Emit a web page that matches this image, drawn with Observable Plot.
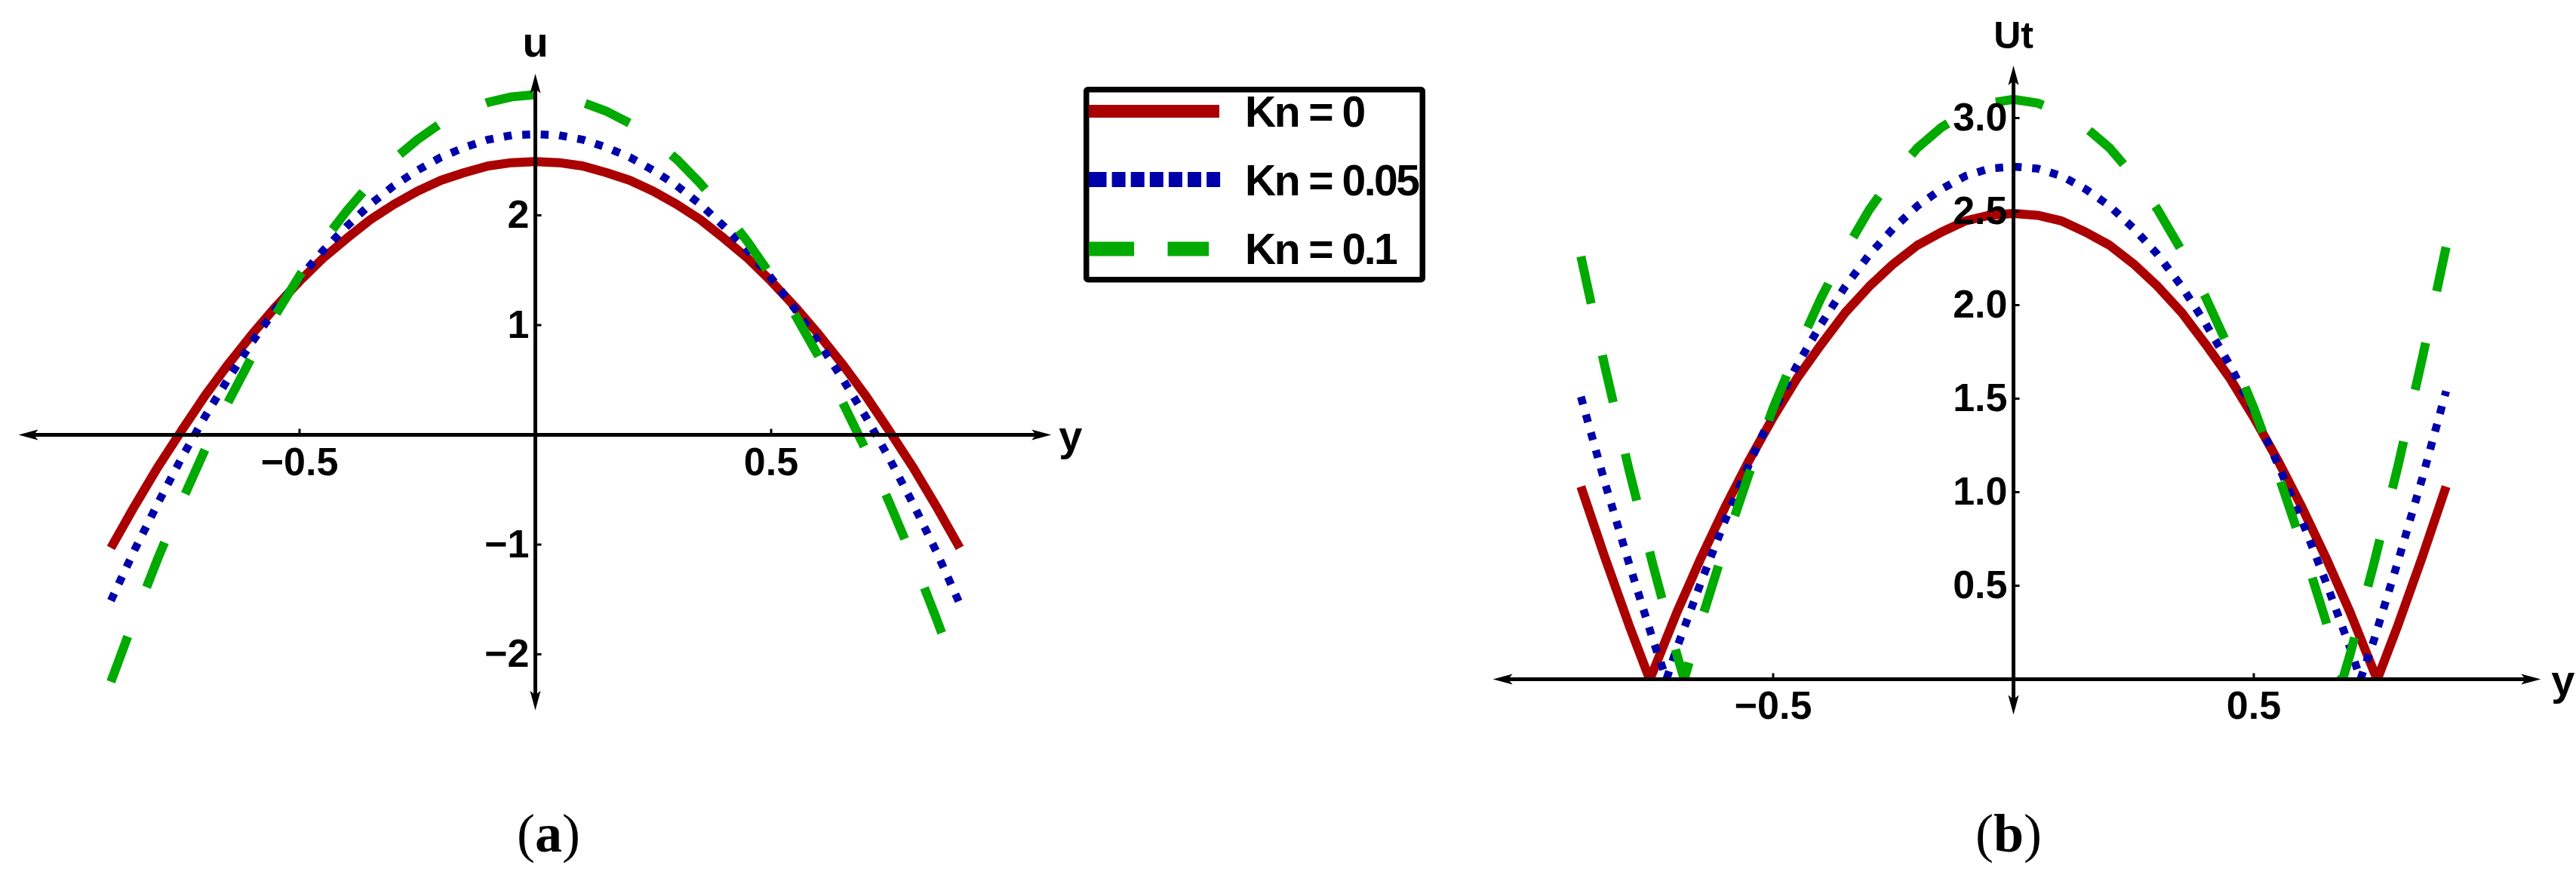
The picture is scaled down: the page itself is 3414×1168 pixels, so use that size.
<!DOCTYPE html>
<html>
<head>
<meta charset="utf-8">
<script src="https://cdn.jsdelivr.net/npm/d3@7"></script>
<script src="https://cdn.jsdelivr.net/npm/@observablehq/plot@0.6"></script>
<style>
html, body { margin: 0; padding: 0; background: #fff; }
#root { position: relative; width: 3414px; height: 1168px; overflow: hidden; background: #fff; }
.panel { position: absolute; top: 0; }
</style>
</head>
<body>
<div id="root"></div>
<script>
// ---------------- data ----------------
const seriesNames = ["Kn = 0", "Kn = 0.05", "Kn = 0.1"];

const yGrid = [-0.90,-0.85,-0.80,-0.75,-0.70,-0.65,-0.60,-0.55,-0.50,-0.45,-0.40,-0.35,-0.30,-0.25,-0.20,-0.15,-0.10,-0.05,0,
               0.05,0.10,0.15,0.20,0.25,0.30,0.35,0.40,0.45,0.50,0.55,0.60,0.65,0.70,0.75,0.80,0.85,0.90];

// panel (a): u(y)
const uRed   = [-1.03,-0.65,-0.29,0.04,0.36,0.65,0.92,1.17,1.40,1.61,1.79,1.96,2.10,2.22,2.32,2.39,2.45,2.48,2.49,
                2.48,2.45,2.39,2.32,2.22,2.10,1.96,1.79,1.61,1.40,1.17,0.92,0.65,0.36,0.04,-0.29,-0.65,-1.03];
const uBlue  = [-1.51,-1.05,-0.62,-0.21,0.17,0.52,0.85,1.15,1.43,1.68,1.90,2.10,2.27,2.41,2.53,2.62,2.69,2.73,2.74,
                2.73,2.69,2.62,2.53,2.41,2.27,2.10,1.90,1.68,1.43,1.15,0.85,0.52,0.17,-0.21,-0.62,-1.06,-1.54];
const uGreen = [-2.25,-1.67,-1.12,-0.61,-0.13,0.31,0.72,1.10,1.45,1.76,2.04,2.29,2.51,2.69,2.84,2.95,3.03,3.08,3.10,
                3.08,3.03,2.95,2.84,2.69,2.51,2.29,2.04,1.76,1.45,1.10,0.72,0.31,-0.13,-0.61,-1.12,-1.67,-2.25];

// panel (b): Ut(y)
const utRed   = [1.03,0.65,0.29,0.04,0.36,0.65,0.92,1.17,1.40,1.61,1.79,1.96,2.10,2.22,2.32,2.39,2.45,2.48,2.49,
                 2.48,2.45,2.39,2.32,2.22,2.10,1.96,1.79,1.61,1.40,1.17,0.92,0.65,0.36,0.04,0.29,0.65,1.03];
const utBlue  = [1.51,1.05,0.62,0.21,0.17,0.52,0.85,1.15,1.43,1.68,1.90,2.10,2.27,2.41,2.53,2.62,2.69,2.73,2.74,
                 2.73,2.69,2.62,2.53,2.41,2.27,2.10,1.90,1.68,1.43,1.15,0.85,0.52,0.17,0.21,0.63,1.07,1.54];
const utGreen = [2.26,1.67,1.12,0.61,0.13,0.31,0.72,1.10,1.45,1.76,2.04,2.29,2.51,2.69,2.84,2.95,3.03,3.08,3.10,
                 3.08,3.03,2.95,2.84,2.69,2.51,2.29,2.04,1.76,1.45,1.10,0.72,0.31,0.13,0.62,1.14,1.71,2.31];
// points where Ut touches zero (corners of the V)
const zeroRed   = [-0.757, 0.757];
const zeroBlue  = [-0.722, 0.722];
const zeroGreen = [-0.685, 0.685];

// axes
const xTicksA = [-0.5, 0.5];
const xTickLabelsA = ["\u22120.5", "0.5"];
const yTicksA = [-2, -1, 1, 2];
const yTickLabelsA = ["\u22122", "\u22121", "1", "2"];
const xAxisA = [-1.096, 1.094];
const yAxisA = [-2.51, 3.29];

const xTicksB = [-0.5, 0.5];
const xTickLabelsB = ["\u22120.5", "0.5"];
const yTicksB = [0.5, 1.0, 1.5, 2.0, 2.5, 3.0];
const yTickLabelsB = ["0.5", "1.0", "1.5", "2.0", "2.5", "3.0"];
const xAxisB = [-1.083, 1.097];
const yAxisB = [-0.19, 3.28];

// ---------------- styles ----------------
const lineStyles = [
  {stroke: "#aa0000", strokeWidth: 12, strokeDasharray: null},
  {stroke: "#0000aa", strokeWidth: 10.5, strokeDasharray: "10.5,14"},
  {stroke: "#00aa00", strokeWidth: 12, strokeDasharray: "64,70"}
];
const SANS = "'Liberation Sans', Arial, Helvetica, sans-serif";

// custom symbols (tip of the arrowhead at the anchor point)
function mkArrow(dir) {
  return {
    draw(ctx, size) {
      const L = Math.sqrt(size / Math.PI), w = L * 0.27, n = L * 0.78;
      const pts = [[0, 0], [-L, -w], [-n, 0], [-L, w]];
      const rot = ([x, y]) =>
        dir === "right" ? [x, y] :
        dir === "left"  ? [-x, y] :
        dir === "up"    ? [y, -x] :
                          [y, x];
      pts.map(rot).forEach(([x, y], i) => i ? ctx.lineTo(x, y) : ctx.moveTo(x, y));
      ctx.closePath();
    }
  };
}
const tickUp = {draw(ctx, size) { const r = Math.sqrt(size / Math.PI); ctx.moveTo(0, 0); ctx.lineTo(0, -r); }};
const tickRight = {draw(ctx, size) { const r = Math.sqrt(size / Math.PI); ctx.moveTo(0, 0); ctx.lineTo(r, 0); }};

function buildRowsA() {
  const arrs = [uRed, uBlue, uGreen];
  return seriesNames.map((s, k) => yGrid.map((y, i) => ({s, y, v: arrs[k][i]})));
}
function buildRowsB() {
  const arrs = [utRed, utBlue, utGreen];
  const zeros = [zeroRed, zeroBlue, zeroGreen];
  return seriesNames.map((s, k) =>
    yGrid.map((y, i) => ({s, y, v: arrs[k][i]}))
      .concat(zeros[k].map(y => ({s, y, v: 0})))
      .sort((a, b) => a.y - b.y));
}

function makePanel(o) {
  const marks = [];
  o.rows.forEach((rows, k) => {
    const st = lineStyles[k];
    marks.push(Plot.line(rows, {
      x: "y", y: "v", stroke: st.stroke, strokeWidth: st.strokeWidth,
      strokeDasharray: st.strokeDasharray, strokeLinecap: "butt", strokeLinejoin: "miter", curve: "linear"
    }));
  });
  // axes lines
  marks.push(Plot.ruleY([0], {x1: () => o.xAxis[0], x2: () => o.xAxis[1], stroke: "black", strokeWidth: 5, insetLeft: 12, insetRight: 12}));
  marks.push(Plot.ruleX([0], {y1: () => o.yAxis[1], y2: () => o.yAxis[0], stroke: "black", strokeWidth: 5, insetTop: 12, insetBottom: 12}));
  // arrowheads
  marks.push(Plot.dot([o.xAxis[0]], {x: d => d, y: () => 0, symbol: mkArrow("left"), r: 26, fill: "black", stroke: "none"}));
  marks.push(Plot.dot([o.xAxis[1]], {x: d => d, y: () => 0, symbol: mkArrow("right"), r: 26, fill: "black", stroke: "none"}));
  marks.push(Plot.dot([o.yAxis[1]], {x: () => 0, y: d => d, symbol: mkArrow("up"), r: 26, fill: "black", stroke: "none"}));
  marks.push(Plot.dot([o.yAxis[0]], {x: () => 0, y: d => d, symbol: mkArrow("down"), r: 26, fill: "black", stroke: "none"}));
  // ticks
  marks.push(Plot.dot(o.xTicks, {x: d => d, y: () => 0, symbol: tickUp, r: 8, stroke: "black", strokeWidth: 3, fill: "none"}));
  marks.push(Plot.dot(o.yTicks, {x: () => 0, y: d => d, symbol: tickRight, r: 8, stroke: "black", strokeWidth: 3, fill: "none"}));
  // tick labels
  marks.push(Plot.text(o.xTicks, {x: d => d, y: () => 0, text: (d, i) => o.xTickLabels[i], lineAnchor: "top", dy: o.xLabelDy,
    fontSize: 52, fontWeight: "bold", fontFamily: SANS, fill: "black"}));
  marks.push(Plot.text(o.yTicks, {x: () => 0, y: d => d, text: (d, i) => o.yTickLabels[i], textAnchor: "end", lineAnchor: "middle", dx: o.yLabelDx,
    fontSize: 52, fontWeight: "bold", fontFamily: SANS, fill: "black"}));
  // axis labels
  marks.push(Plot.text([o.yName], {x: () => 0, y: () => o.yAxis[1], text: d => d, lineAnchor: "bottom", dy: -23,
    fontSize: o.yNameSize, fontWeight: "bold", fontFamily: SANS, fill: "black"}));
  marks.push(Plot.text([o.xName], {x: () => o.xAxis[1], y: () => 0, text: d => d, textAnchor: "start", lineAnchor: "bottom", dx: o.xNameDx, dy: 20,
    fontSize: 56, fontWeight: "bold", fontFamily: SANS, fill: "black"}));

  return Plot.plot({
    width: o.width, height: o.height,
    marginLeft: o.ml, marginRight: o.mr, marginTop: o.mt, marginBottom: o.mb,
    x: {domain: o.xDomain, axis: null},
    y: {domain: o.yDomain, axis: null},
    style: {background: "transparent", fontFamily: SANS, overflow: "visible"},
    marks
  });
}

const root = document.getElementById("root");

const svgA = makePanel({
  width: 1420, height: 1000, ml: 84, mr: 86, mt: 139.5, mb: 133,
  xDomain: [-1, 1], yDomain: [-2, 3],
  rows: buildRowsA(), xAxis: xAxisA, yAxis: yAxisA,
  xTicks: xTicksA, xTickLabels: xTickLabelsA, yTicks: yTicksA, yTickLabels: yTickLabelsA,
  xLabelDy: 17, yLabelDx: -8, yName: "u", yNameSize: 56, xName: "y", xNameDx: 10
});
const divA = document.createElement("div");
divA.className = "panel"; divA.style.left = "0px";
divA.appendChild(svgA); root.appendChild(divA);

const svgB = makePanel({
  width: 1454, height: 1000, ml: 71, mr: 109, mt: 156, mb: 100,
  xDomain: [-1, 1], yDomain: [0, 3],
  rows: buildRowsB(), xAxis: xAxisB, yAxis: yAxisB,
  xTicks: xTicksB, xTickLabels: xTickLabelsB, yTicks: yTicksB, yTickLabels: yTickLabelsB,
  xLabelDy: 16, yLabelDx: -8, yName: "Ut", yNameSize: 50, xName: "y", xNameDx: 14
});
const divB = document.createElement("div");
divB.className = "panel"; divB.style.left = "1960px";
divB.appendChild(svgB); root.appendChild(divB);

// ---------------- legend and captions overlay ----------------
const ov = d3.create("svg").attr("width", 3414).attr("height", 1168)
  .style("position", "absolute").style("left", "0px").style("top", "0px");
const lg = ov.append("g").attr("transform", "translate(1436,115)");
lg.append("rect").attr("x", 3.75).attr("y", 3.75).attr("width", 445.5).attr("height", 252)
  .attr("rx", 2).attr("fill", "white").attr("stroke", "black").attr("stroke-width", 7.5);
const swY = [32.5, 123, 215];
const txY = [53, 144, 235];
lg.append("line").attr("x1", 7).attr("x2", 180).attr("y1", swY[0]).attr("y2", swY[0])
  .attr("stroke", lineStyles[0].stroke).attr("stroke-width", 17);
lg.append("line").attr("x1", 7).attr("x2", 182).attr("y1", swY[1]).attr("y2", swY[1])
  .attr("stroke", lineStyles[1].stroke).attr("stroke-width", 20)
  .attr("stroke-dasharray", "23.5,7.1,18,7.1,18,7.1,18,7.1,18,7.1,18,7.1,18,7.1");
lg.append("line").attr("x1", 7).attr("x2", 166).attr("y1", swY[2]).attr("y2", swY[2])
  .attr("stroke", lineStyles[2].stroke).attr("stroke-width", 19)
  .attr("stroke-dasharray", "60,44.5,54.5,100");
seriesNames.forEach((s, i) => {
  lg.append("text").attr("x", 214).attr("y", txY[i]).text(s)
    .attr("font-family", SANS).attr("font-weight", "bold").attr("font-size", 57)
    .attr("letter-spacing", "-2.5px").attr("fill", "black");
});

function caption(x, letter) {
  const t = ov.append("text").attr("x", x).attr("y", 1129).attr("text-anchor", "middle")
    .attr("font-family", "'Liberation Serif', 'Times New Roman', serif").attr("font-size", 72).attr("fill", "black");
  t.append("tspan").text("(");
  t.append("tspan").attr("font-weight", "bold").text(letter);
  t.append("tspan").text(")");
}
caption(727, "a");
caption(2662, "b");
root.appendChild(ov.node());
</script>
</body>
</html>
